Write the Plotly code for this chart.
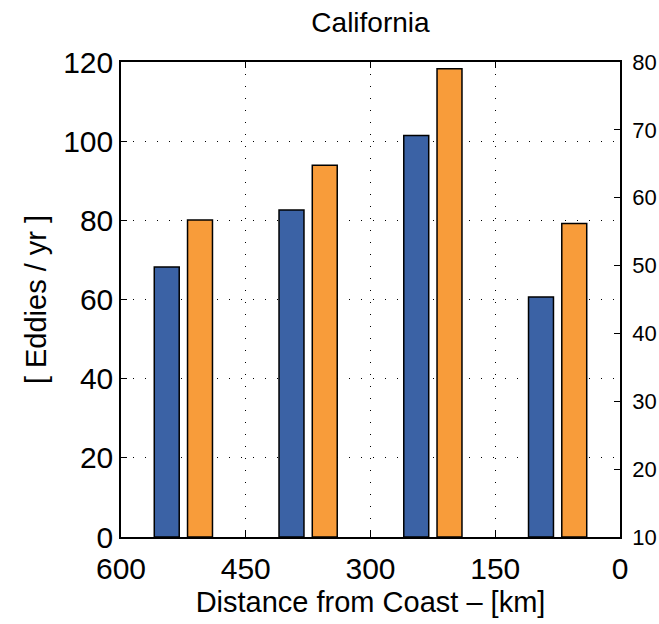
import plotly.graph_objects as go

# Data
blue_x = [545, 395, 245, 95]           # Distance from coast [km]
blue_vals = [68.2, 82.6, 101.4, 60.6]  # left axis [Eddies / yr]
orange_x = [505, 355, 205, 55]
orange_vals = [56.7, 64.8, 79.0, 56.2]  # right axis
bar_width = 30

x_ticks = [600, 450, 300, 150, 0]
left_ticks = [0, 20, 40, 60, 80, 100, 120]
right_ticks = [10, 20, 30, 40, 50, 60, 70, 80]
right_base = 10

FONT = "Liberation Sans, Arial, Helvetica, sans-serif"
BLUE = "#3B62A5"
ORANGE = "#F89C3A"

fig = go.Figure()
fig.add_trace(go.Bar(x=blue_x, y=blue_vals, width=bar_width,
                     marker=dict(color=BLUE, line=dict(color="black", width=1.5)),
                     yaxis="y", showlegend=False))
fig.add_trace(go.Bar(x=orange_x, y=[v - right_base for v in orange_vals], base=right_base, width=bar_width,
                     marker=dict(color=ORANGE, line=dict(color="black", width=1.5)),
                     yaxis="y2", showlegend=False))

fig.update_layout(
    width=659, height=624,
    margin=dict(l=121, r=39, t=62, b=87, autoexpand=False),
    plot_bgcolor="white", paper_bgcolor="white",
    barmode="overlay",
    font=dict(family=FONT, color="black", size=30),
    title=dict(text="California", x=0.5, xref="paper", xanchor="center",
               y=1 - 22 / 624, yref="container", yanchor="middle", font=dict(size=28)),
    xaxis=dict(range=[600, 0], tickvals=x_ticks, ticktext=[str(t) for t in x_ticks],
               showline=True, linecolor="black", linewidth=1.5, mirror="ticks",
               ticks="inside", ticklen=6, tickcolor="black", tickwidth=1,
               showgrid=True, gridcolor="black", gridwidth=1, griddash="1px,11px",
               tickfont=dict(size=30), zeroline=False, ticklabelstandoff=4, automargin=False,
               title=dict(text="Distance from Coast – [km]", font=dict(size=29), standoff=8)),
    yaxis=dict(range=[0, 120], tickvals=left_ticks,
               showline=True, linecolor="black", linewidth=1.5, mirror=True,
               ticks="inside", ticklen=6, tickcolor="black", tickwidth=1,
               showgrid=True, gridcolor="black", gridwidth=1, griddash="1px,11px",
               tickfont=dict(size=30), zeroline=False, automargin=False,
               title=dict(text="[ Eddies / yr ]", font=dict(size=29), standoff=8)),
    yaxis2=dict(range=[10, 80], tickvals=right_ticks, overlaying="y", side="right",
                showline=True, linecolor="black", linewidth=1.5,
                ticks="inside", ticklen=6, tickcolor="black", tickwidth=1,
                showgrid=False, zeroline=False, tickfont=dict(size=22), ticklabelstandoff=6,
                automargin=False),
)

fig.write_html("out.html")
